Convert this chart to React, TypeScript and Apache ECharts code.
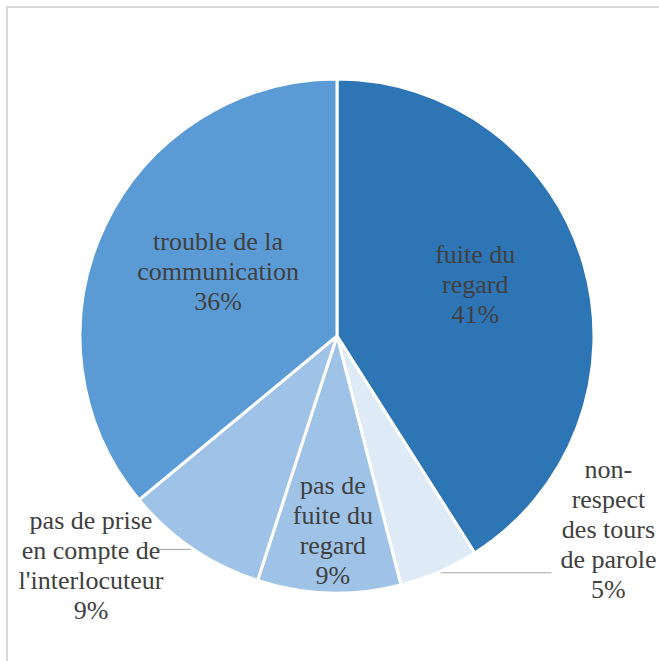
import React, { useEffect, useRef } from "react";
import * as echarts from "echarts";

const categories = [
  "fuite du regard",
  "non-respect des tours de parole",
  "pas de fuite du regard",
  "pas de prise en compte de l'interlocuteur",
  "trouble de la communication",
];
const values = [41, 5, 9, 9, 36];
const labelLines = [
  ["fuite du", "regard"],
  ["non-", "respect", "des tours", "de parole"],
  ["pas de", "fuite du", "regard"],
  ["pas de prise", "en compte de", "l'interlocuteur"],
  ["trouble de la", "communication"],
];
const colors = ["#2E75B6", "#DEEBF7", "#9FC3E7", "#9FC3E7", "#5B9BD5"];
const outside = [false, true, false, true, false];
const labelShift = [
  [12, -15],
  [0, -43],
  [0, 63],
  [14, 16],
  [0, -9],
];

const FAMILY = "Liberation Serif";

export default function App() {
  const ref = useRef<HTMLDivElement>(null);
  useEffect(() => {
    if (!ref.current) return;
    const chart = echarts.init(ref.current, undefined, { renderer: "svg" });
    const font = {
      fontFamily: FAMILY,
      fontSize: 26,
      lineHeight: 30,
      color: "#404040",
    };
    const data = categories.map((name, i) => {
      const pct = values[i] + "%";
      const lines = [...labelLines[i], pct];
      if (outside[i]) {
        const w = i === 1 ? 104 : 152;
        return {
          name,
          value: values[i],
          itemStyle: { color: colors[i] },
          label: {
            show: true,
            position: "outside",
            formatter: lines.map((l) => "{a|" + l + "}").join("\n"),
            ...font,
            rich: { a: { ...font, width: w, align: "center" } },
          },
          labelLine: {
            show: true,
            length: 1,
            length2: i === 1 ? 112 : 34,
            lineStyle: { color: "#A6A6A6", width: 1 },
          },
        };
      }
      return {
        name,
        value: values[i],
        itemStyle: { color: colors[i] },
        label: {
          show: true,
          position: "inside",
          formatter: lines.join("\n"),
          ...font,
          align: "center",
        },
        labelLine: { show: false },
      };
    });
    chart.setOption({
      animation: false,
      backgroundColor: "#ffffff",
      textStyle: { fontFamily: FAMILY },
      graphic: [
        {
          type: "rect",
          shape: { x: 7, y: 7, width: 720, height: 720 },
          style: { fill: "none", stroke: "#D9D9D9", lineWidth: 2 },
          silent: true,
        },
      ],
      series: [
        {
          type: "pie",
          center: [337, 336],
          radius: 257,
          startAngle: 90,
          clockwise: true,
          avoidLabelOverlap: false,
          itemStyle: { borderColor: "#ffffff", borderWidth: 3 },
          label: { distanceToLabelLine: 5, fontFamily: FAMILY },
          labelLayout: (p: any) => {
            const s = labelShift[p.dataIndex] || [0, 0];
            const r: any = { dx: s[0], dy: s[1] };
            if (p.labelLinePoints) r.labelLinePoints = p.labelLinePoints;
            return r;
          },
          data,
        },
      ],
    });
    return () => chart.dispose();
  }, []);
  return (
    <div
      ref={ref}
      style={{ position: "fixed", left: 0, top: 0, width: 659, height: 661 }}
    />
  );
}
